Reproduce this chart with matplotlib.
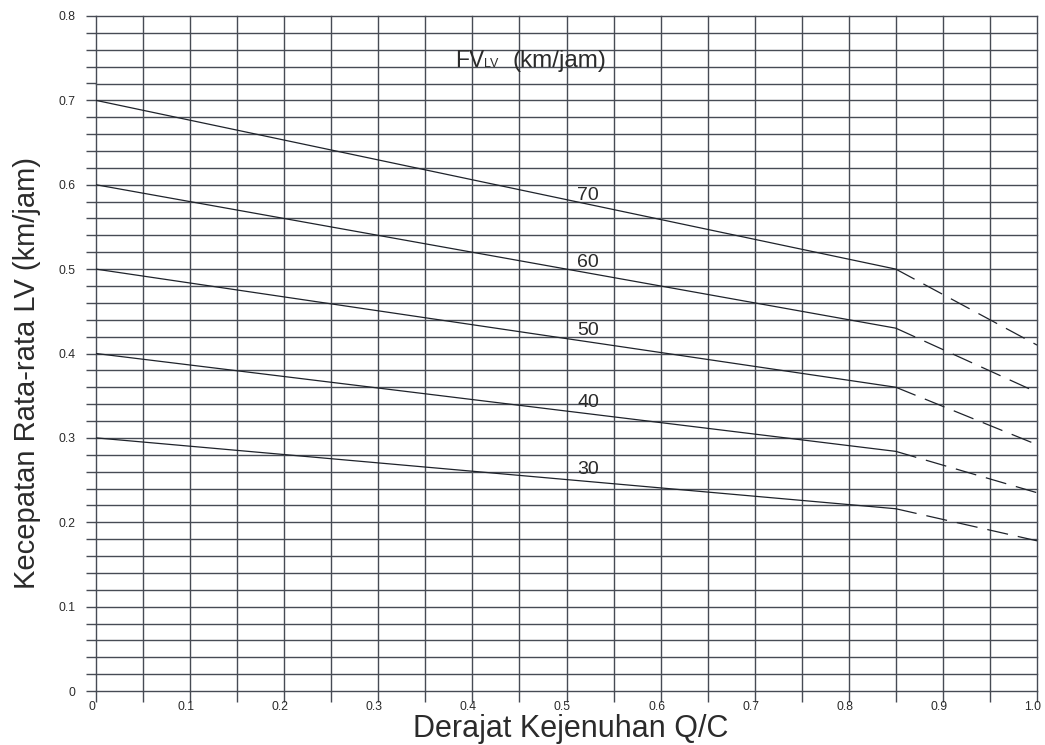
import matplotlib
matplotlib.use("Agg")
import matplotlib.pyplot as plt
import matplotlib.transforms as mtransforms
import numpy as np

# Data
fv_labels = ["70", "60", "50", "40", "30"]
x_solid = [0.0, 0.85]
x_dash = [0.85, 1.0]
y_start = [0.70, 0.60, 0.50, 0.40, 0.30]
y_knee = [0.50, 0.43, 0.36, 0.284, 0.216]
y_end = [0.41, 0.354, 0.292, 0.235, 0.178]
label_x = 0.523
label_y = [0.582, 0.5025, 0.422, 0.3366, 0.257]

x_ticks = [0, 0.1, 0.2, 0.3, 0.4, 0.5, 0.6, 0.7, 0.8, 0.9, 1.0]
x_ticklabels = ["0", "0.1", "0.2", "0.3", "0.4", "0.5", "0.6", "0.7", "0.8", "0.9", "1.0"]
y_ticks = [0, 0.1, 0.2, 0.3, 0.4, 0.5, 0.6, 0.7, 0.8]
y_ticklabels = ["0", "0.1", "0.2", "0.3", "0.4", "0.5", "0.6", "0.7", "0.8"]

plt.rcParams['font.family'] = ['Liberation Sans', 'DejaVu Sans']
W, H = 1045, 745
fig = plt.figure(figsize=(W / 100, H / 100), dpi=100)
ax = fig.add_axes([96 / W, (H - 691) / H, (1037 - 96) / W, (691 - 16) / H])

grid_c = '#474b54'
text_c = '#2b2b2b'
ax.set_xlim(0, 1.0)
ax.set_ylim(0, 0.8)

# grid
for xv in np.arange(0, 1.0001, 0.05):
    ax.axvline(xv, color=grid_c, lw=1.0, zorder=1, clip_on=False)
for yv in np.arange(0, 0.8001, 0.02):
    ax.axhline(yv, color=grid_c, lw=1.0, zorder=1, clip_on=False)

for s in ax.spines.values():
    s.set_visible(False)

# curves
for ys, yk, ye in zip(y_start, y_knee, y_end):
    ax.plot(x_solid, [ys, yk], color='#1f232b', lw=0.9, zorder=3)
    ax.plot(x_dash, [yk, ye], color='#1f232b', lw=0.9, zorder=3,
            dashes=(17, 8))

for lab, ly in zip(fv_labels, label_y):
    ax.text(label_x, ly, lab, fontsize=14, color=text_c, ha='center',
            va='baseline', zorder=4)

ax.text(0.3815, 0.7396, "FV", fontsize=16.5, color=text_c, ha='left',
        va='baseline', zorder=4)
ax.text(0.4123, 0.7396, "LV", fontsize=9, color=text_c, ha='left',
        va='baseline', zorder=4)
ax.text(0.4421, 0.7396, "(km/jam)", fontsize=17.5, color=text_c, ha='left',
        va='baseline', zorder=4)

# ticks
ax.set_xticks(x_ticks)
ax.set_xticklabels(x_ticklabels)
ax.set_xticks(np.arange(0.05, 1.0, 0.1), minor=True)
ax.set_yticks(y_ticks)
ax.set_yticklabels(y_ticklabels)
ax.set_yticks(np.arange(0.02, 0.8, 0.02), minor=True)
ax.tick_params(axis='x', which='both', length=8, width=1.0, color=grid_c,
               labelsize=8.8, labelcolor=text_c, pad=-1)
ax.tick_params(axis='y', which='both', length=7.5, width=1.0, color=grid_c,
               labelsize=8.8, labelcolor=text_c, pad=7)
off = mtransforms.ScaledTranslation(-4 / 100, 0, fig.dpi_scale_trans)
for lbl in ax.get_xticklabels():
    lbl.set_transform(lbl.get_transform() + off)

fig.text(571 / W, 1 - 729 / H, "Derajat Kejenuhan Q/C", fontsize=22,
         color=text_c, ha='center', va='center')
fig.text(27 / W, 1 - 373 / H, "Kecepatan Rata-rata LV (km/jam)", fontsize=21,
         color=text_c, ha='center', va='center', rotation=90)

fig.savefig("out.png", dpi=100)
